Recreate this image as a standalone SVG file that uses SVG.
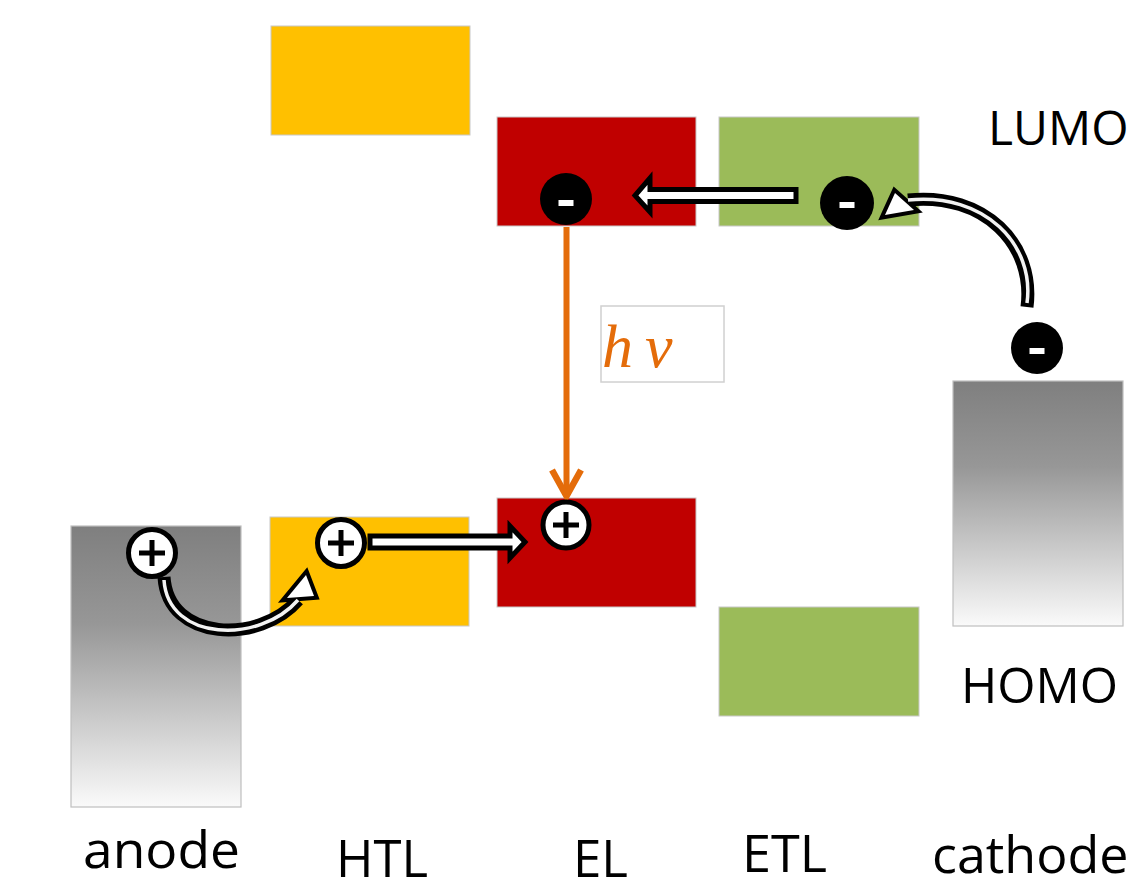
<svg xmlns="http://www.w3.org/2000/svg" width="1128" height="896" viewBox="0 0 1128 896">
<defs>
<linearGradient id="metal" x1="0" y1="0" x2="0" y2="1">
<stop offset="0" stop-color="#7f7f7f"/>
<stop offset="0.35" stop-color="#979797"/>
<stop offset="1" stop-color="#fafafa"/>
</linearGradient>
</defs>
<style>
.box{stroke:#c8c8c8;stroke-width:1}
.htl{fill:#FFC000}
.el{fill:#C00000}
.etl{fill:#9BBB59}
.metal{fill:url(#metal);stroke:#bfbfbf;stroke-width:1.2}
.lbl{font-family:"Open Sans","Liberation Sans",sans-serif;fill:#000}
.minus circle{fill:#000}
.minus rect{fill:#fff}
.plus circle{fill:#fff;stroke:#000;stroke-width:5}
.plus path{stroke:#000;stroke-width:5;fill:none}
.blk{fill:#fff;stroke:#000;stroke-width:5;stroke-linejoin:miter}
.cOut{fill:none;stroke:#000;stroke-width:13}
.cIn{fill:none;stroke:#f2f2f2;stroke-width:3.5}
.hOut{fill:#000;stroke:#000;stroke-width:8;stroke-linejoin:miter}
.hIn{fill:#fff}
</style>
<rect width="1128" height="896" fill="#fff"/>

<g id="anode"><rect class="metal" x="71" y="526" width="170" height="281"/></g>
<g id="cathode"><rect class="metal" x="953" y="381" width="170" height="245"/></g>
<g id="htl-lumo"><rect class="box htl" x="271" y="26" width="199" height="109"/></g>
<g id="htl-homo"><rect class="box htl" x="270" y="517" width="199" height="109"/></g>
<g id="el-lumo"><rect class="box el" x="497" y="117" width="199" height="109"/></g>
<g id="el-homo"><rect class="box el" x="497" y="498" width="199" height="109"/></g>
<g id="etl-lumo"><rect class="box etl" x="719" y="117" width="200" height="109"/></g>
<g id="etl-homo"><rect class="box etl" x="719" y="607" width="200" height="109"/></g>

<g id="connectors">
<!-- photon emission -->
<line x1="566.5" y1="227" x2="566.5" y2="494" stroke="#E46C0A" stroke-width="6"/>
<polyline points="552,470 566.5,496 581,470" fill="none" stroke="#E46C0A" stroke-width="6.5" stroke-linejoin="miter"/>
<!-- ETL -> EL electron transfer -->
<polygon class="blk" points="796,189.5 650,189.5 650,178 635,195.5 650,212 650,201.5 796,201.5"/>
<!-- HTL -> EL hole transfer -->
<polygon class="blk" points="370,536 510,536 510,526 525,542 510,558 510,548 370,548"/>
<!-- cathode -> ETL electron injection (curved) -->
<path class="cOut" d="M1027,307 C1035,245 985,192 908,200"/>
<polygon class="hOut" points="885,215 895,193 914,210"/>
<path class="cIn" d="M1027,303 C1035,245 985,192 908,200"/>
<polygon class="hIn" points="885,215 895,193 914,210"/>
<!-- anode -> HTL hole injection (curved) -->
<path class="cOut" d="M164,577 C168,642 260,644 298,600"/>
<polygon class="hOut" points="306,575 287,598 314,596"/>
<path class="cIn" d="M164,580 C168,642 260,644 298,600"/>
<polygon class="hIn" points="306,575 287,598 314,596"/>
</g>

<g id="e-el" class="minus"><circle cx="566" cy="199" r="26"/><rect x="558.5" y="200" width="15" height="6"/></g>
<g id="e-etl" class="minus"><circle cx="847" cy="203" r="27"/><rect x="839.5" y="202" width="15" height="6"/></g>
<g id="e-cathode" class="minus"><circle cx="1037" cy="348" r="26"/><rect x="1029.5" y="348" width="15" height="6"/></g>

<g id="h-anode" class="plus"><circle cx="152" cy="553" r="23.5"/><path d="M139,553 H165 M152,540 V566"/></g>
<g id="h-htl" class="plus"><circle cx="341" cy="543" r="23.5"/><path d="M328,543 H354 M341,530 V556"/></g>
<g id="h-el" class="plus"><circle cx="566" cy="525" r="23"/><path d="M553,525 H579 M566,512 V538"/></g>

<g id="hv-label">
<rect x="601" y="306" width="123" height="76" fill="#fff" stroke="#d0d0d0" stroke-width="1.5"/>
<text x="602" y="367" font-family="Liberation Serif,serif" font-style="italic" font-size="62" fill="#E46C0A">h</text>
<text x="645" y="367" font-family="Liberation Serif,serif" font-style="italic" font-size="62" fill="#E46C0A">ν</text>
</g>

<g id="labels">
<text class="lbl" x="988" y="145" font-size="48">LUMO</text>
<text class="lbl" x="961" y="703" font-size="49" textLength="157" lengthAdjust="spacingAndGlyphs">HOMO</text>
<text class="lbl" x="83" y="868" font-size="52" textLength="157" lengthAdjust="spacingAndGlyphs">anode</text>
<text class="lbl" x="336" y="877" font-size="52" textLength="92" lengthAdjust="spacingAndGlyphs">HTL</text>
<text class="lbl" x="573" y="877" font-size="52" textLength="55" lengthAdjust="spacingAndGlyphs">EL</text>
<text class="lbl" x="742" y="872" font-size="52" textLength="85" lengthAdjust="spacingAndGlyphs">ETL</text>
<text class="lbl" x="932" y="873" font-size="52">cathode</text>
</g>
</svg>
